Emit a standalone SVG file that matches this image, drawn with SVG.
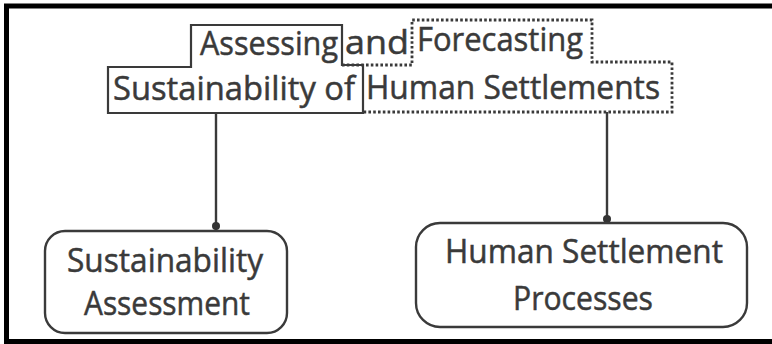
<svg xmlns="http://www.w3.org/2000/svg" width="772" height="344" viewBox="0 0 772 344">
  <style>
    .frame { fill: none; stroke: #000; stroke-width: 5; }
    .solid { fill: none; stroke: #3a3a3a; stroke-width: 2.2; stroke-linejoin: miter; }
    .dotted { fill: none; stroke: #3a3a3a; stroke-width: 2.8; stroke-dasharray: 2.6 2.2; }
    .box { fill: #fff; stroke: #3a3a3a; stroke-width: 2.4; }
    .link { fill: none; stroke: #3a3a3a; stroke-width: 2.4; }
    .dot { fill: #333; }
    .label { font-family: "Open Sans", Lato, sans-serif; font-size: 33px; fill: #3a3a3a; stroke: #3a3a3a; stroke-width: 0.5; }
  </style>
  <rect width="772" height="344" fill="#fff"/>

  <!-- page frame (open on the right) -->
  <path class="frame" d="M772,6 H6.5 V341.5 H772"/>

  <!-- title block -->
  <g id="title">
    <!-- dotted outline: "and" / "Forecasting" / "Human Settlements" -->
    <path class="dotted" d="M342,65 H412 V20 H592 V62 H672 V112 H363"/>
    <!-- solid outline: "Assessing" / "Sustainability of" -->
    <path class="solid" d="M191,25 H342 V65 H363 V113 H108 V67 H191 Z"/>
    <text class="label" x="200" y="55" textLength="138" lengthAdjust="spacingAndGlyphs">Assessing</text>
    <text class="label" x="345" y="54" textLength="64" lengthAdjust="spacingAndGlyphs">and</text>
    <text class="label" x="417" y="51" textLength="166" lengthAdjust="spacingAndGlyphs">Forecasting</text>
    <text class="label" x="113" y="100" textLength="242" lengthAdjust="spacingAndGlyphs">Sustainability of</text>
    <text class="label" x="366" y="99" textLength="294" lengthAdjust="spacingAndGlyphs">Human Settlements</text>
  </g>

  <!-- connectors -->
  <g id="connectors">
    <line class="link" x1="216" y1="113" x2="216" y2="231"/>
    <circle class="dot" cx="216" cy="226" r="4"/>
    <line class="link" x1="607" y1="112" x2="607" y2="223"/>
    <circle class="dot" cx="607" cy="219" r="4"/>
  </g>

  <g id="sustainability-assessment">
    <rect class="box" x="45" y="231" width="242" height="102" rx="20" ry="20"/>
    <text class="label" x="67" y="272" textLength="196" lengthAdjust="spacingAndGlyphs">Sustainability</text>
    <text class="label" x="84" y="315" textLength="166" lengthAdjust="spacingAndGlyphs">Assessment</text>
  </g>

  <g id="human-settlement-processes">
    <rect class="box" x="416" y="223" width="331" height="104" rx="24" ry="24"/>
    <text class="label" x="445" y="263" textLength="278" lengthAdjust="spacingAndGlyphs">Human Settlement</text>
    <text class="label" x="513" y="310" textLength="140" lengthAdjust="spacingAndGlyphs">Processes</text>
  </g>
</svg>
